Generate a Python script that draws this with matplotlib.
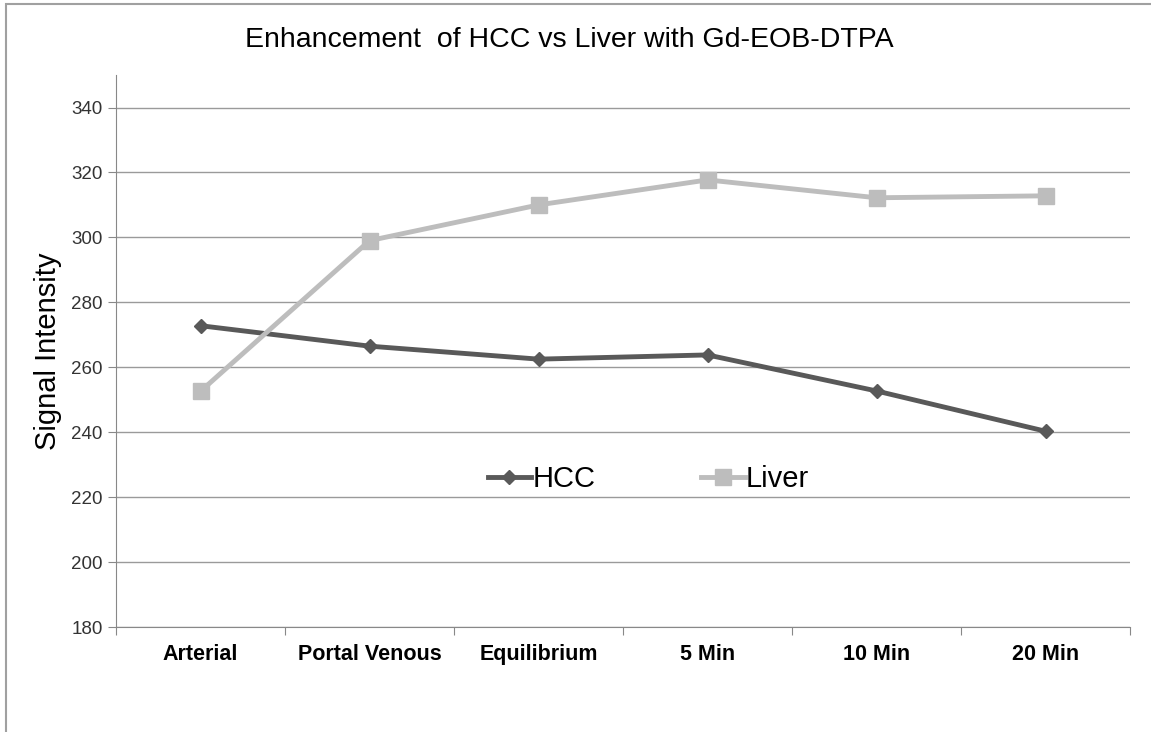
import matplotlib.pyplot as plt
from matplotlib.patches import Rectangle

fases = ['Arterial', 'Portal Venous', 'Equilibrium', '5 Min', '10 Min', '20 Min']
hcc = [272.8, 266.5, 262.5, 263.8, 252.7, 240.3]
higado = [252.6, 299.0, 310.0, 317.7, 312.2, 312.8]

plt.rcParams['font.family'] = ['Liberation Sans', 'DejaVu Sans']

fig = plt.figure(figsize=(11.51, 7.32), dpi=100)
ax = fig.add_axes([0.1008, 0.1434, 0.8810, 0.7541])

# marco exterior del grafico
fig.patches.append(Rectangle((0.005, -0.02), 1.2, 1.015, transform=fig.transFigure,
                             fill=False, edgecolor='#a0a0a0', linewidth=1.5))

x = range(len(fases))
ax.plot(x, hcc, color='#595959', linewidth=3.5, marker='D', markersize=7, label='HCC')
ax.plot(x, higado, color='#bdbdbd', linewidth=3.5, marker='s', markersize=11, label='Liver')

ax.set_xlim(-0.5, len(fases) - 0.5)
ax.set_ylim(180, 350)
ax.set_yticks(range(180, 341, 20))
ax.set_xticks([i + 0.5 for i in range(-1, len(fases))], minor=False)
ax.set_xticklabels([])
ax.set_xticks(list(x), minor=True)
ax.set_xticklabels(fases, minor=True, fontweight='bold', fontsize=15.5)
ax.tick_params(axis='x', which='minor', length=0, pad=12)
ax.tick_params(axis='x', which='major', length=6, color='#888888')
ax.tick_params(axis='y', length=6, color='#888888', labelsize=13.5, labelcolor='#333333')

ax.grid(axis='y', color='#9a9a9a', linewidth=1)
ax.set_axisbelow(True)
for lado in ['top', 'right']:
    ax.spines[lado].set_visible(False)
for lado in ['left', 'bottom']:
    ax.spines[lado].set_color('#888888')

ax.set_ylabel('Signal Intensity', fontsize=21)
ax.yaxis.set_label_coords(-0.053, 0.5)
fig.text(0.495, 0.946, 'Enhancement  of HCC vs Liver with Gd-EOB-DTPA', ha='center', va='center',
         fontsize=20.5)

ax.legend(loc='center', bbox_to_anchor=(0.525, 0.268), ncol=2, frameon=False, fontsize=21,
          handlelength=1.5, handletextpad=0.05, columnspacing=3.6)

plt.savefig('out.png', dpi=100)
